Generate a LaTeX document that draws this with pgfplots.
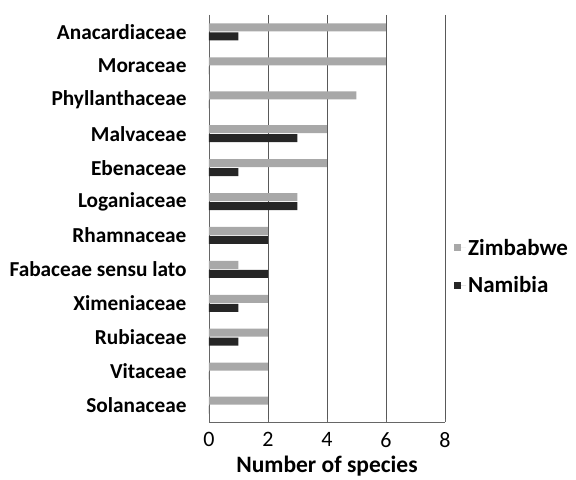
\documentclass[border=0pt]{standalone}
\usepackage{pgfplots}
\pgfplotsset{compat=1.18}
\usepackage{fontspec}
\setmainfont{Carlito}
\definecolor{zim}{RGB}{168,168,168}
\definecolor{nam}{RGB}{38,38,38}
\begin{document}
\begin{tikzpicture}
\begin{axis}[
  scale only axis,
  width=236pt, height=407pt,
  xbar,
  xmin=0, xmax=8,
  xtick={0,2,4,6,8},
  ymin=-0.5, ymax=11.5,
  y dir=reverse,
  ytick={0,...,11},
  yticklabels={Anacardiaceae,Moraceae,Phyllanthaceae,Malvaceae,Ebenaceae,Loganiaceae,Rhamnaceae,Fabaceae sensu lato,Ximeniaceae,Rubiaceae,Vitaceae,Solanaceae},
  yticklabel style={font=\fontsize{21.3}{24}\selectfont\bfseries, xshift=-16pt},
  xticklabel style={font=\fontsize{22}{24}\selectfont, yshift=-7pt},
  /pgf/number format/assume math mode=true,
  y tick style={draw=none},
  x tick style={black!60, thin},
  major tick length=3pt,
  xmajorgrids,
  grid style={black!65, thin},
  axis line style={black!60, thin},
  axis x line*=bottom,
  axis y line*=left,
  xlabel={\bfseries Number of species},
  xlabel style={font=\fontsize{23.5}{25}\selectfont, yshift=-1pt},
  bar width=8pt,
  legend style={draw=none, at={(1.0,0.382)}, anchor=west, xshift=6pt, font=\fontsize{23}{25}\selectfont\bfseries, row sep=16pt, fill=none},
  legend cell align=left,
  legend image code/.code={\fill[#1] (0pt,-3.5pt) rectangle (7pt,3.5pt); \path (0pt,0pt) -- (12pt,0pt);},
]
\addplot[fill=zim, draw=none, bar shift=4.5pt] coordinates {
(6,0) (6,1) (5,2) (4,3) (4,4) (3,5) (2,6) (1,7) (2,8) (2,9) (2,10) (2,11)};
\addlegendentry{Zimbabwe}
\addplot[fill=nam, draw=none, bar shift=-4.5pt] coordinates {
(1,0) (0,1) (0,2) (3,3) (1,4) (3,5) (2,6) (2,7) (1,8) (1,9) (0,10) (0,11)};
\addlegendentry{Namibia}
\end{axis}
\path ([shift={(-209pt,-53pt)}]current axis.south west) rectangle ([shift={(131pt,15pt)}]current axis.north east);
\end{tikzpicture}
\end{document}
